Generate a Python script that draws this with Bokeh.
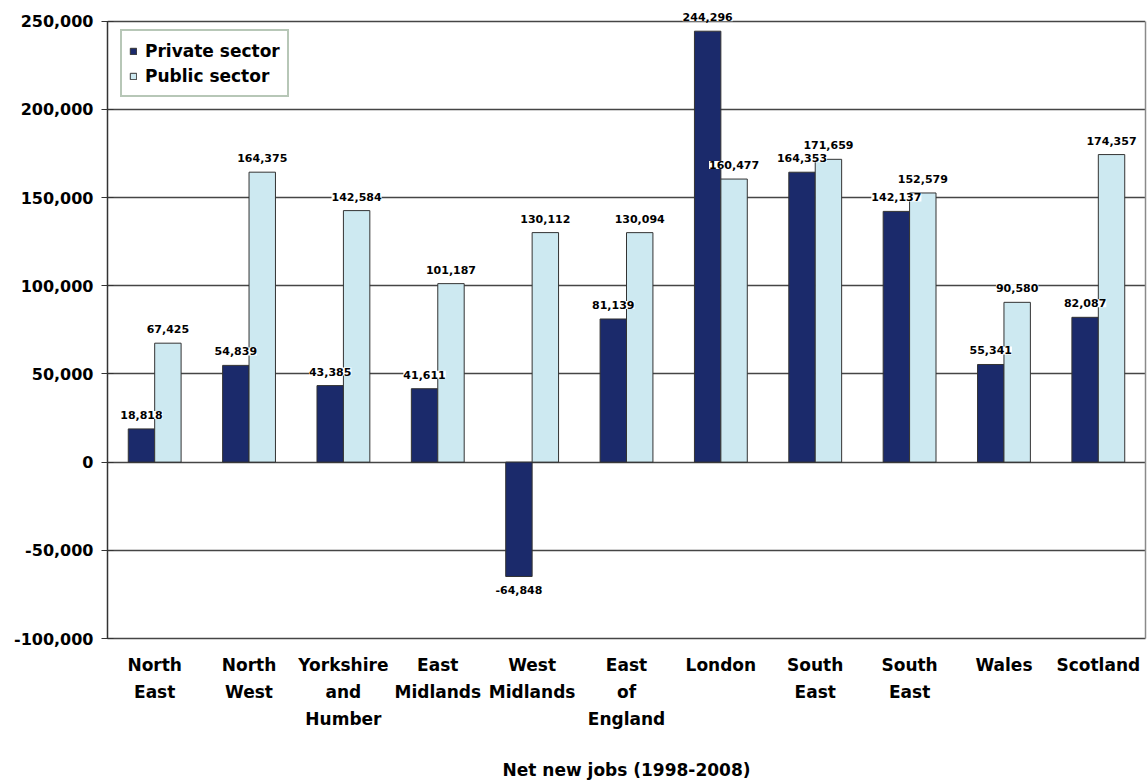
from bokeh.plotting import figure
from bokeh.models import (ColumnDataSource, LabelSet, Legend, LegendItem, LinearAxis,
                          FixedTicker, NumeralTickFormatter, Range1d)
from bokeh.core.properties import value
from bokeh.transform import dodge
from bokeh.embed import file_html
from bokeh.resources import INLINE

regions = ["North\nEast", "North\nWest", "Yorkshire\nand\nHumber", "East\nMidlands",
           "West\nMidlands", "East\nof\nEngland", "London", "South\nEast",
           "South\nEast", "Wales", "Scotland"]
private = [18818, 54839, 43385, 41611, -64848, 81139, 244296, 164353, 142137, 55341, 82087]
public = [67425, 164375, 142584, 101187, 130112, 130094, 160477, 171659, 152579, 90580, 174357]
y_ticks = [-100000, -50000, 0, 50000, 100000, 150000, 200000, 250000]

Y_MIN, Y_MAX = y_ticks[0], y_ticks[-1]
Y_HEADROOM = 10000   # room above the top gridline so the tallest value label is not clipped
idx = list(range(len(regions)))
src = ColumnDataSource(dict(
    x=idx, private=private, public=public,
    private_lbl=[f"{v:,}" for v in private],
    public_lbl=[f"{v:,}" for v in public],
    private_off=[14 if v >= 0 else -14 for v in private],
))

FONT = "DejaVu Sans"
BAR_W = 0.28
OFF = 0.14

p = figure(width=1148, height=782, output_backend="svg", toolbar_location=None,
           x_range=Range1d(-0.5, len(regions) - 0.5),
           y_range=Range1d(Y_MIN, Y_MAX + Y_HEADROOM),
           min_border_left=107, min_border_right=3, min_border_top=3, min_border_bottom=144)
p.outline_line_color = None
p.background_fill_color = "white"

bp = p.vbar(x=dodge("x", -OFF, range=p.x_range), top="private", width=BAR_W, source=src,
            fill_color="#1b2a6b", line_color="#333333", line_width=1)
bq = p.vbar(x=dodge("x", OFF, range=p.x_range), top="public", width=BAR_W, source=src,
            fill_color="#cde9f1", line_color="#333333", line_width=1)

lbl_common = dict(source=src, text_font=value(FONT), text_font_style="bold",
                  text_font_size="11px", text_align="center", text_baseline="middle",
                  text_color="black", background_fill_color="white")
p.add_layout(LabelSet(x=dodge("x", -OFF, range=p.x_range), y="private", text="private_lbl",
                      y_offset="private_off", **lbl_common))
p.add_layout(LabelSet(x=dodge("x", OFF, range=p.x_range), y="public", text="public_lbl",
                      y_offset=14, **lbl_common))

# grid
p.xgrid.visible = False
p.ygrid.ticker = FixedTicker(ticks=y_ticks)
p.ygrid.grid_line_color = "#454545"
p.ygrid.grid_line_width = 1.6

# y axis
p.yaxis.ticker = FixedTicker(ticks=y_ticks)
p.yaxis.bounds = (Y_MIN, Y_MAX)
p.yaxis.formatter = NumeralTickFormatter(format="0,0")
p.yaxis.major_label_text_font = FONT
p.yaxis.major_label_text_font_style = "bold"
p.yaxis.major_label_text_font_size = "16px"
p.yaxis.major_label_text_color = "black"
p.yaxis.axis_line_color = "#333333"
p.yaxis.axis_line_width = 1.5
p.yaxis.major_tick_line_color = "#333333"
p.yaxis.major_tick_in = 6
p.yaxis.major_tick_out = 6
p.yaxis.minor_tick_line_color = None
p.yaxis.major_label_standoff = 8

# right border line of the plot area
rax = LinearAxis(ticker=FixedTicker(ticks=[]), bounds=(Y_MIN, Y_MAX),
                 axis_line_color="#8a8a8a", axis_line_width=1.5,
                 major_tick_line_color=None, minor_tick_line_color=None,
                 major_label_text_font_size="0px")
p.add_layout(rax, "right")

# x axis
p.xaxis.ticker = FixedTicker(ticks=idx)
p.xaxis.major_label_overrides = {i: r for i, r in zip(idx, regions)}
p.xaxis.major_label_text_font = FONT
p.xaxis.major_label_text_font_style = "bold"
p.xaxis.major_label_text_font_size = "17px"
p.xaxis.major_label_text_color = "black"
p.xaxis.major_label_text_line_height = 1.35
p.xaxis.axis_line_color = "#454545"
p.xaxis.axis_line_width = 1.6
p.xaxis.major_tick_line_color = None
p.xaxis.minor_tick_line_color = None
p.xaxis.major_label_standoff = 10
p.xaxis.axis_label = "Net new jobs (1998-2008)"
p.xaxis.axis_label_text_font = FONT
p.xaxis.axis_label_text_font_style = "bold"
p.xaxis.axis_label_text_font_size = "17px"
p.xaxis.axis_label_text_color = "black"
p.xaxis.axis_label_standoff = 28

legend = Legend(items=[LegendItem(label="Private sector", renderers=[bp]),
                       LegendItem(label="Public sector", renderers=[bq])],
                location=(13, 541))
legend.margin = 0
legend.padding = 7
legend.spacing = 0
legend.glyph_width = 8
legend.glyph_height = 8
legend.label_text_font = FONT
legend.label_text_font_style = "bold"
legend.label_text_font_size = "17px"
legend.label_text_color = "black"
legend.label_height = 25
legend.label_standoff = 8
legend.border_line_color = "#6f8f6f"
legend.border_line_width = 2
legend.background_fill_color = "white"
legend.background_fill_alpha = 1
p.add_layout(legend)

open("out.html", "w").write(file_html(p, INLINE))
